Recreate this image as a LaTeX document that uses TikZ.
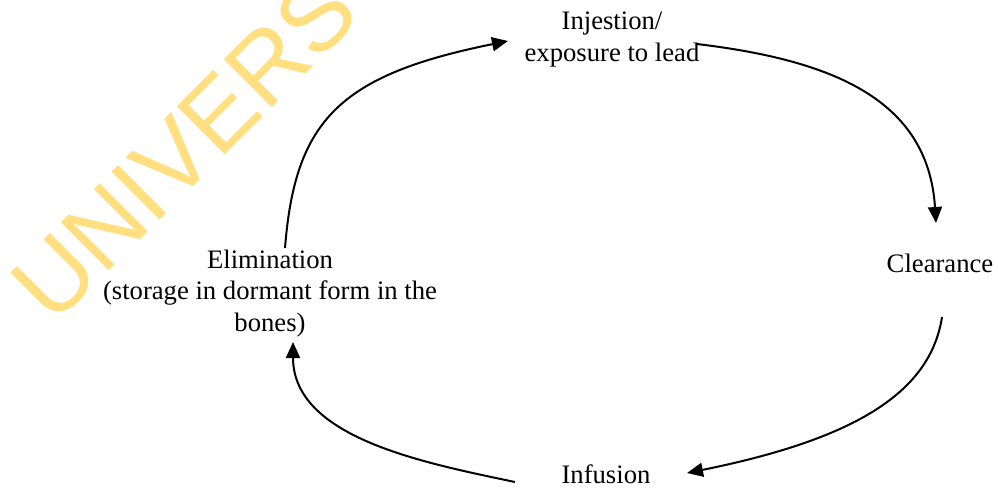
\documentclass[tikz,border=0pt]{standalone}
\usepackage{fontspec}
\setmainfont{Liberation Serif}
\newfontfamily\wmfont{Liberation Sans}
\usetikzlibrary{arrows.meta}
\definecolor{wmyellow}{RGB}{255,223,128}
\tikzset{
  lbl/.style={inner sep=0pt, align=center, anchor=base, font=\fontsize{20}{23.3}\selectfont},
  conn/.style={line width=1.5pt, -{Triangle[length=12pt,width=10.5pt]}},
  wm/.style={inner sep=0pt, anchor=base west, rotate=45, text=wmyellow, font=\wmfont\fontsize{74}{80}\selectfont}
}
\begin{document}
\begin{tikzpicture}[x=0.75pt,y=-0.75pt]
\useasboundingbox (0,0) rectangle (998,487);
\begin{scope}
\clip (0,0) rectangle (998,487);
\node[wm] (wmark) at (53,327) {UNIVERS};
\end{scope}
\node[lbl] (inj) at (612,61) {Injestion/\\exposure to lead};
\node[lbl] (clr) at (940,272) {Clearance};
\node[lbl] (inf) at (606,483) {Infusion};
\node[lbl] (elim) at (270,331) {Elimination\\(storage in dormant form in the\\bones)};
\draw[conn] ([shift={(15,-83)}]elim.base) .. controls (295,120) and (340,75) .. ([shift={(-104,-20)}]inj.base);
\draw[conn] ([shift={(85,-17)}]inj.base) .. controls (830,60) and (928,98) .. ([shift={(-4,-49)}]clr.base);
\draw[conn] ([shift={(2,45)}]clr.base) .. controls (930,395) and (850,440) .. ([shift={(81,-10)}]inf.base);
\draw[conn] ([shift={(-91,-1)}]inf.base) .. controls (425,463) and (293,438) .. ([shift={(23,11)}]elim.base);
\end{tikzpicture}
\end{document}
